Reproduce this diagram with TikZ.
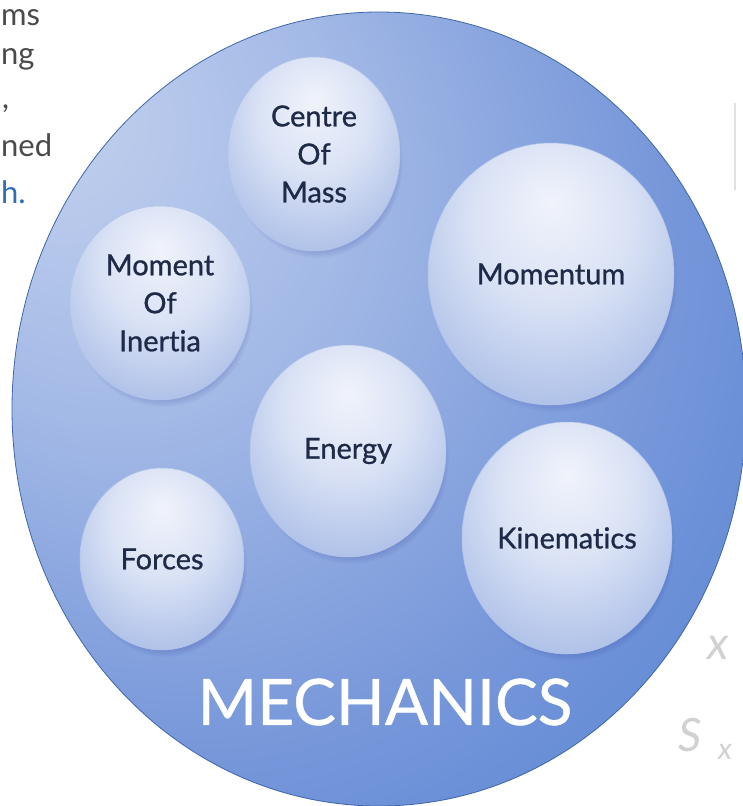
\documentclass[tikz,border=0pt]{standalone}
\usepackage{fontspec}
\setmainfont{Lato}[Ligatures=NoCommon]
\newfontfamily\labfont{Lato}[Ligatures=NoCommon, FakeBold=0.9]
\newfontfamily\titlefont{Lato}[Ligatures=NoCommon, FakeBold=0.7]
\usetikzlibrary{shapes.geometric,shadows}
\definecolor{bubA}{HTML}{F0F3FB}
\definecolor{bubB}{HTML}{DAE2F5}
\definecolor{bubC}{HTML}{B0C2E9}
\definecolor{bubD}{HTML}{809DDC}
\definecolor{bubE}{HTML}{5E82D0}
\definecolor{bigA}{HTML}{C4D2EE}
\definecolor{bigB}{HTML}{A3B9E6}
\definecolor{bigC}{HTML}{7797DA}
\definecolor{bigD}{HTML}{5080D2}
\definecolor{bigE}{HTML}{3F6FC6}
\definecolor{labtext}{HTML}{1E2A48}
\definecolor{sidetext}{HTML}{4A4A4A}
\definecolor{linktext}{HTML}{2F6DB5}
\pgfdeclareradialshading{bubble}{\pgfpoint{0bp}{14bp}}{color(0bp)=(bubA); color(16bp)=(bubB); color(32bp)=(bubC); color(49bp)=(bubD); color(64bp)=(bubE)}
\pgfdeclareradialshading{bigball}{\pgfpoint{-24bp}{20bp}}{color(0bp)=(bigA); color(16bp)=(bigB); color(32bp)=(bigC); color(48bp)=(bigD); color(66bp)=(bigE)}
\tikzset{
  bub/.style={ellipse, inner sep=0pt, shading=bubble, draw=bubD!60, line width=0.5pt,
    circular drop shadow={shadow xshift=3pt, shadow yshift=-7pt, shadow scale=1.0, opacity=0.25, fill=blue!45!black}},
  lab/.style={align=center, text=labtext, font=\labfont\fontsize{29}{38}\selectfont},
  side/.style={anchor=base west, text=sidetext, font=\fontsize{31}{36}\selectfont, inner sep=0pt},
  faint/.style={text=black!18, font=\fontsize{46}{50}\selectfont\itshape}
}
\begin{document}
\begin{tikzpicture}[x=1pt,y=-1pt]
\useasboundingbox (0,0) rectangle (743,806);
\clip (0,0) rectangle (743,806);
\fill[white] (0,0) rectangle (743,806);
% faint background sketch
\draw[black!12, line width=2pt] (735,103) -- (735,190);
\node[faint] (fx) at (718,648) {x};
\node[faint] (fs) at (690,735) {S};
\node[faint, font=\fontsize{30}{34}\selectfont\itshape] (fx2) at (725,752) {x};
% cut-off side text
\node[side] (t1) at (1,25) {ms};
\node[side] (t2) at (1,64) {ng};
\node[side] (t3) at (2,108) {,};
\node[side] (t4) at (1,156) {ned};
\node[side, text=linktext] (t5) at (1,203) {h.};
% main circle
\node[ellipse, inner sep=0pt, minimum width=734pt, minimum height=794pt, shading=bigball,
  draw=bigD!80!black, line width=0.8pt] (mech) at (379,409) {};
% sub circles
\node[bub, minimum width=172pt, minimum height=194pt] (com) at (314,154) {};
\node[bub, minimum width=180pt, minimum height=194pt] (moi) at (160,303) {};
\node[bub, minimum width=246pt, minimum height=262pt] (mom) at (551,274) {};
\node[bub, minimum width=196pt, minimum height=212pt] (ene) at (348,451) {};
\node[bub, minimum width=164pt, minimum height=182pt] (frc) at (162,559) {};
\node[bub, minimum width=210pt, minimum height=232pt] (kin) at (567,538) {};
% labels
\node[lab] (comlab) at (com) {Centre\\Of\\Mass};
\node[lab] (moilab) at (moi) {Moment\\Of\\Inertia};
\node[lab] (momlab) at (mom) {Momentum};
\node[lab] (enelab) at (ene) {Energy};
\node[lab] (frclab) at (frc) {Forces};
\node[lab] (kinlab) at (kin) {Kinematics};
\node[text=white, font=\titlefont\fontsize{64}{70}\selectfont] (mechlab) at (385,702) {MECHANICS};
\end{tikzpicture}
\end{document}
